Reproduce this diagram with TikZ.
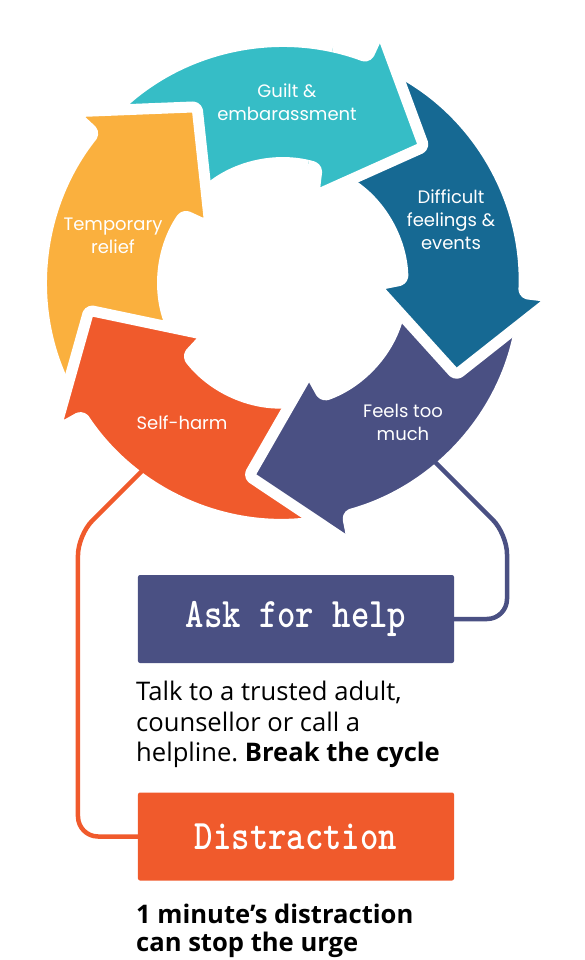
\documentclass[tikz,border=0pt]{standalone}
\usepackage{fontspec}
\setmainfont{Open Sans}
\newfontfamily\labelfont{Poppins}
\definecolor{cyanA}{HTML}{36BDC6}
\definecolor{blueA}{HTML}{166993}
\definecolor{purpleA}{HTML}{4A5083}
\definecolor{orangeA}{HTML}{F05A2C}
\definecolor{yellowA}{HTML}{FAB03E}
\newcommand\cyclearrow[2]{%
  \path[arrowshape, fill=#2] (#1+64:241) arc[start angle=#1+64, end angle=#1-0.5, radius=241]
    -- (#1-1:272) -- (#1-26:196) -- (#1+0.5:92) -- (#1+3.5:120)
    arc[start angle=#1+3.5, end angle=#1+58, radius=120] -- cycle;}
\tikzset{
  arrowshape/.style={draw=white, line width=11, rounded corners=4, line join=round},
  lbl/.style={text=white, font=\labelfont\fontsize{18}{23}\selectfont, align=center, inner sep=0},
  helpbox/.style={minimum width=316, minimum height=88, rounded corners=2, inner sep=0},
  boxtxt/.style={text=white, font=\ttfamily\bfseries\fontsize{35}{35}\selectfont},
  bodytext/.style={anchor=base west, inner sep=0, font=\fontsize{25.6}{30}\selectfont},
  boldtext/.style={bodytext, font=\bfseries\fontsize{25.6}{30}\selectfont},
  conn/.style={line width=4.5, rounded corners=20},
}
\frenchspacing
\begin{document}
\begin{tikzpicture}[x=1pt,y=1pt]
\useasboundingbox (-283,283) rectangle (302,-677);
% cycle arrows
\cyclearrow{70}{cyanA}
\cyclearrow{142}{yellowA}
\cyclearrow{-146}{orangeA}
\cyclearrow{-74}{purpleA}
\cyclearrow{-2}{blueA}
\begin{scope}
  \clip (0,0) -- (78:330) arc[start angle=78, end angle=30, radius=330] -- cycle;
  \cyclearrow{70}{cyanA}
\end{scope}
% labels
\node[lbl] (guilt) at (4,181) {Guilt \&\\embarassment};
\node[lbl] (temp) at (-170,47.5) {Temporary\\relief};
\node[lbl] (diff) at (168,63.5) {Difficult\\feelings \&\\events};
\node[lbl] (feels) at (120,-139.5) {Feels too\\much};
\node[lbl] (self) at (-101,-140) {Self-harm};
% boxes
\node[helpbox, fill=purpleA, boxtxt] (ask) at (13,-336) {\scalebox{1}[1.2]{Ask for help}};
\node[helpbox, fill=orangeA, boxtxt] (dist) at (13,-553.5) {\scalebox{1}[1.2]{Distraction}};
% connectors
\coordinate (shc) at (-138,-185);
\coordinate (ftc) at (147,-174);
\draw[conn, orangeA] (shc) -- (-205,-252) |- (dist.west);
\draw[conn, purpleA] (ftc) -- (224,-251) |- (ask.east);
% body text
\node[bodytext] (t1) at (-147,-417) {Talk to a trusted adult,};
\node[bodytext] (t2) at (-147,-448.7) {counsellor or call a};
\node[bodytext] (t3) at (-147,-478.7) {helpline. \textbf{Break the cycle}};
\node[boldtext] (b1) at (-147,-640.3) {1 minute’s distraction};
\node[boldtext] (b2) at (-147,-668) {can stop the urge};
\end{tikzpicture}
\end{document}
